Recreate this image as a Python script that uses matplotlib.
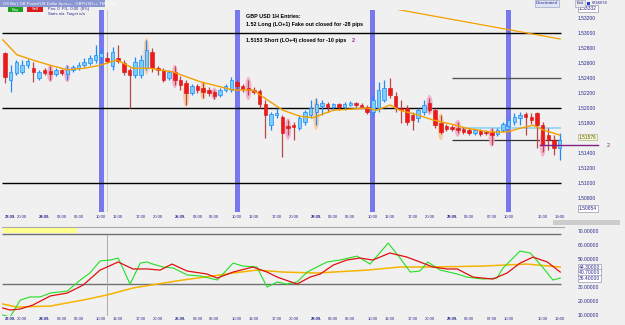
import numpy as np
import matplotlib.pyplot as plt
from matplotlib.patches import Ellipse, Rectangle

# GBPUSD 1H candles, 23.09. 17:00 -> 29.09. 19:00
opens = [1.5273, 1.5237, 1.5247, 1.5248, 1.5257, 1.5253, 1.5240, 1.5251, 1.5249, 1.5245,
         1.5251, 1.5245, 1.5251, 1.5253, 1.5257, 1.5260, 1.5264, 1.5268, 1.5267, 1.5256,
         1.5267, 1.5260, 1.5251, 1.5244, 1.5244, 1.5253, 1.5275, 1.5253, 1.5251, 1.5240,
         1.5248, 1.5237, 1.5233, 1.5220, 1.5229, 1.5227, 1.5224, 1.5221, 1.5217, 1.5224,
         1.5224, 1.5235, 1.5229, 1.5227, 1.5224, 1.5223, 1.5205, 1.5177, 1.5191, 1.5188,
         1.5176, 1.5177, 1.5173, 1.5181, 1.5191, 1.5195, 1.5203, 1.5205, 1.5201, 1.5205,
         1.5201, 1.5204, 1.5207, 1.5204, 1.5201, 1.5195, 1.5200, 1.5211, 1.5227, 1.5216,
         1.5200, 1.5200, 1.5191, 1.5187, 1.5195, 1.5207, 1.5197, 1.5180, 1.5176, 1.5175,
         1.5173, 1.5172, 1.5171, 1.5167, 1.5169, 1.5168, 1.5168, 1.5165, 1.5171, 1.5176,
         1.5181, 1.5187, 1.5192, 1.5188, 1.5193, 1.5177, 1.5164, 1.5157, 1.5147]
highs = [1.5275, 1.5257, 1.5264, 1.5264, 1.5265, 1.5261, 1.5251, 1.5253, 1.5256, 1.5253,
         1.5252, 1.5257, 1.5257, 1.5261, 1.5267, 1.5271, 1.5284, 1.5280, 1.5275, 1.5281,
         1.5284, 1.5264, 1.5253, 1.5268, 1.5271, 1.5291, 1.5280, 1.5256, 1.5253, 1.5251,
         1.5256, 1.5243, 1.5237, 1.5232, 1.5232, 1.5235, 1.5228, 1.5224, 1.5227, 1.5232,
         1.5241, 1.5237, 1.5232, 1.5237, 1.5228, 1.5225, 1.5211, 1.5195, 1.5200, 1.5191,
         1.5184, 1.5181, 1.5191, 1.5197, 1.5211, 1.5213, 1.5211, 1.5208, 1.5207, 1.5207,
         1.5208, 1.5209, 1.5208, 1.5207, 1.5204, 1.5217, 1.5235, 1.5237, 1.5240, 1.5221,
         1.5211, 1.5204, 1.5195, 1.5200, 1.5211, 1.5213, 1.5200, 1.5191, 1.5179, 1.5177,
         1.5181, 1.5175, 1.5173, 1.5172, 1.5172, 1.5171, 1.5173, 1.5173, 1.5181, 1.5187,
         1.5193, 1.5195, 1.5195, 1.5193, 1.5195, 1.5181, 1.5173, 1.5164, 1.5167]
lows = [1.5233, 1.5221, 1.5244, 1.5245, 1.5253, 1.5235, 1.5237, 1.5244, 1.5237, 1.5243,
        1.5244, 1.5237, 1.5248, 1.5251, 1.5255, 1.5257, 1.5260, 1.5253, 1.5260, 1.5251,
        1.5260, 1.5244, 1.5200, 1.5240, 1.5240, 1.5251, 1.5248, 1.5244, 1.5235, 1.5237,
        1.5231, 1.5224, 1.5204, 1.5217, 1.5220, 1.5213, 1.5216, 1.5212, 1.5215, 1.5221,
        1.5221, 1.5224, 1.5221, 1.5217, 1.5219, 1.5200, 1.5160, 1.5171, 1.5187, 1.5135,
        1.5164, 1.5157, 1.5171, 1.5177, 1.5187, 1.5177, 1.5191, 1.5195, 1.5197, 1.5197,
        1.5197, 1.5203, 1.5201, 1.5200, 1.5192, 1.5191, 1.5195, 1.5208, 1.5213, 1.5195,
        1.5180, 1.5177, 1.5171, 1.5181, 1.5191, 1.5195, 1.5173, 1.5165, 1.5169, 1.5169,
        1.5167, 1.5165, 1.5164, 1.5164, 1.5163, 1.5164, 1.5151, 1.5163, 1.5168, 1.5173,
        1.5177, 1.5177, 1.5164, 1.5179, 1.5147, 1.5141, 1.5144, 1.5137, 1.5131]
closes = [1.5241, 1.5248, 1.5261, 1.5257, 1.5263, 1.5248, 1.5248, 1.5247, 1.5245, 1.5251,
          1.5247, 1.5252, 1.5255, 1.5257, 1.5261, 1.5267, 1.5271, 1.5273, 1.5263, 1.5275,
          1.5263, 1.5248, 1.5244, 1.5261, 1.5264, 1.5277, 1.5253, 1.5251, 1.5237, 1.5248,
          1.5237, 1.5231, 1.5220, 1.5229, 1.5224, 1.5221, 1.5220, 1.5216, 1.5224, 1.5229,
          1.5237, 1.5229, 1.5225, 1.5224, 1.5221, 1.5205, 1.5191, 1.5192, 1.5193, 1.5167,
          1.5173, 1.5175, 1.5187, 1.5195, 1.5200, 1.5205, 1.5207, 1.5201, 1.5205, 1.5201,
          1.5205, 1.5207, 1.5204, 1.5201, 1.5195, 1.5211, 1.5224, 1.5227, 1.5217, 1.5200,
          1.5197, 1.5181, 1.5184, 1.5197, 1.5204, 1.5197, 1.5177, 1.5168, 1.5172, 1.5172,
          1.5171, 1.5168, 1.5167, 1.5171, 1.5165, 1.5167, 1.5164, 1.5171, 1.5179, 1.5184,
          1.5188, 1.5191, 1.5188, 1.5184, 1.5177, 1.5151, 1.5157, 1.5147, 1.5157]

# orange moving average
ema_bar = [-0.4, 2.1, 4.9, 8.0, 11.0, 14.0, 16.8, 19.8, 22.6, 25.6, 29.7, 34.5, 40.3, 43.8,
           46.3, 49.1, 52.1, 54.4, 58.0, 64.0, 65.7, 68.0, 69.8, 72.8, 75.6, 78.6, 81.6,
           85.7, 88.7, 91.0, 93.3, 95.0, 98.0]
ema_val = [1.5291, 1.5271, 1.5264, 1.5257, 1.5251, 1.5253, 1.5257, 1.5264, 1.5253, 1.5253,
           1.5248, 1.5235, 1.5224, 1.5224, 1.5211, 1.5197, 1.5189, 1.5187, 1.5197, 1.5200,
           1.5197, 1.5204, 1.5197, 1.5191, 1.5184, 1.5179, 1.5173, 1.5168, 1.5168, 1.5173,
           1.5177, 1.5171, 1.5164]

# highlighted candles (bar, mid price, height)
pink_bar = [8, 11, 30, 37, 43, 50, 75, 80, 86, 95]
pink_mid = [1.5246, 1.5246, 1.5242, 1.5219, 1.5226, 1.5172, 1.5204, 1.5173, 1.5161, 1.5153]
pink_h = [0.0023, 0.0023, 0.0031, 0.0016, 0.0031, 0.0029, 0.0027, 0.0023, 0.0025, 0.0036]
orange_bar = [25, 32, 35, 55, 77]
orange_mid = [1.5269, 1.5218, 1.5223, 1.5192, 1.5175]
orange_h = [0.0049, 0.0033, 0.0024, 0.0043, 0.0036]

session_bars = [17, 41, 65, 89]
round_levels = [1.5300, 1.5200, 1.5100]

# oscillator panel
g_bar = [-0.4, 0.9, 2.7, 4.4, 6.2, 8.0, 11.0, 13.3, 15.0, 16.8, 18.6, 20.0, 22.1, 23.9, 25.1,
         26.1, 27.9, 29.7, 32.2, 34.5, 37.5, 40.3, 42.0, 44.5, 46.3, 48.1, 49.8, 51.6, 53.4,
         55.1, 56.9, 59.2, 62.2, 64.5, 67.7, 69.8, 71.6, 73.3, 74.7, 76.9, 79.9, 81.6, 84.5,
         86.9, 88.0, 91.0, 92.8, 95.1, 96.8, 98.1]
g_val = [10.0, 8.6, 20.7, 22.9, 22.9, 25.7, 27.1, 35.0, 40.0, 48.6, 49.3, 50.7, 32.1, 47.1, 47.9,
         46.4, 44.3, 43.6, 38.6, 37.9, 35.0, 47.1, 45.0, 44.3, 30.0, 33.6, 32.1, 33.6, 40.7,
         44.3, 47.9, 49.3, 52.1, 46.4, 61.4, 50.7, 40.7, 41.4, 47.9, 42.1, 39.3, 37.1, 35.7,
         36.4, 43.6, 55.7, 54.3, 43.6, 35.0, 36.4]
r_bar = [-0.4, 0.9, 2.7, 4.9, 8.0, 11.0, 13.8, 16.8, 20.0, 22.6, 25.1, 27.4, 29.5, 32.2, 35.7,
         37.5, 40.3, 43.8, 46.3, 48.1, 51.6, 53.9, 55.7, 58.0, 60.4, 62.7, 65.0, 68.0, 71.0,
         73.3, 75.6, 78.1, 79.9, 82.7, 86.2, 88.7, 91.0, 93.3, 95.8, 98.1]
r_val = [15.0, 13.6, 14.3, 17.1, 23.6, 25.7, 31.4, 42.1, 47.9, 42.9, 42.9, 42.1, 46.4, 41.4, 39.3,
         36.4, 40.7, 44.3, 40.7, 37.1, 32.1, 37.1, 39.3, 45.7, 49.3, 50.7, 49.3, 54.3, 51.4,
         47.9, 44.3, 42.9, 42.9, 37.1, 35.7, 40.0, 47.1, 51.4, 47.9, 40.7]
o_bar = [-0.4, 2.1, 8.0, 13.8, 18.0, 22.6, 26.9, 31.4, 36.7, 40.3, 44.5, 49.1, 55.1, 58.0, 64.0,
         69.8, 75.6, 84.5, 92.2, 98.1]
o_val = [17.9, 15.7, 16.4, 20.7, 24.3, 29.3, 32.1, 35.0, 37.9, 40.0, 42.1, 40.7, 40.0, 40.7, 42.1,
         44.3, 44.3, 45.0, 46.4, 44.3]
osc_levels = [68, 32]

tick_bars = [0, 3, 7, 10, 13, 17, 20, 24, 27, 31, 34, 37, 41, 44, 48, 51, 55, 58, 61, 65, 68,
             72, 75, 79, 82, 86, 89, 95, 98]
tick_text = ['23.09.', '20:00', '24.09.', '03:00', '06:00', '10:00', '13:00', '17:00', '20:00',
             '25.09.', '03:00', '06:00', '10:00', '13:00', '17:00', '20:00', '28.09.', '03:00',
             '06:00', '10:00', '13:00', '17:00', '20:00', '29.09.', '03:00', '07:00', '10:00',
             '16:00', '19:00']
price_ticks = [1.508, 1.510, 1.512, 1.514, 1.518, 1.520, 1.522, 1.524, 1.526, 1.528, 1.530,
               1.532]

BG = '#f0f0f0'
NAVY = '#28288c'
plt.rcParams['font.family'] = ['Liberation Sans', 'DejaVu Sans']

fig = plt.figure(figsize=(6.25, 3.25), dpi=100, facecolor=BG)
ax = fig.add_axes([2/625, 1-212/325, 563/625, 202/325], facecolor=BG)
ax2 = fig.add_axes([2/625, 1-316/325, 563/625, 90/325], facecolor=BG)
xl = (-0.53, 98.94)

# ---- price panel
for b in session_bars:
    ax.axvspan(b - 0.45, b + 0.45, color='#7878ee', lw=0, zorder=1)
ax.axvline(18, color='#c8c8c8', lw=0.6, zorder=1)
ax.hlines(round_levels, -0.5, 98.2, color='black', lw=1.0, zorder=2)
ax.hlines(1.5240, 79, 98.2, color='#555555', lw=1.0, zorder=2)
ax.hlines(1.5157, 79, 98.2, color='#333333', lw=0.9, zorder=2)
ax.hlines(1.5173, 80, 98.2, color='#8fd4f4', lw=1.2, zorder=2)
ax.plot([94.5, 104.8], [1.5151, 1.5151], color='#802080', lw=1.0, clip_on=False, zorder=8)
ax.text(106.3, 1.5150, '2', color='#802080', fontsize=4.0, va='center', clip_on=False)
ax.plot([68.9, 98.1], [1.5332, 1.5292], color='#f5a000', lw=0.9, zorder=3)

for b, m, h in zip(pink_bar, pink_mid, pink_h):
    ax.add_patch(Ellipse((b, m), 1.1, h, color='#f3a6c6', alpha=0.85, lw=0, zorder=2))
for b, m, h in zip(orange_bar, orange_mid, orange_h):
    ax.add_patch(Ellipse((b, m), 1.1, h, color='#f7c99a', alpha=0.85, lw=0, zorder=2))

o = np.array(opens)
h = np.array(highs)
l = np.array(lows)
c = np.array(closes)
x = np.arange(len(o))
up = c >= o
ax.vlines(x[up], l[up], h[up], color='#1a8cff', lw=0.9, zorder=3)
ax.vlines(x[~up], l[~up], h[~up], color='#b84848', lw=0.9, zorder=3)
ax.bar(x[up], np.maximum((c - o)[up], 0.00008), bottom=o[up], width=0.62,
       color='#80ccf8', edgecolor='#1a8cff', lw=0.5, zorder=4)
ax.bar(x[~up], (c - o)[~up], bottom=o[~up], width=0.62,
       color='#ee1a1a', edgecolor='#d81010', lw=0.4, zorder=4)
ax.plot(ema_bar, ema_val, color='#f5a000', lw=1.0, zorder=5)

ax.text(42.6, 1.5320, 'GBP USD 1H Entries:', fontsize=3.9, weight='bold', zorder=6)
ax.text(42.6, 1.5309, '1.52 Long (LO+1) Fake out closed for -28 pips', fontsize=3.9,
        weight='bold', zorder=6)
ax.text(42.6, 1.5288, '1.5153 Short (LO+4) closed for -10 pips', fontsize=3.9,
        weight='bold', zorder=6)
ax.text(61.3, 1.5288, '2', fontsize=3.9, color='#8a2a8a', weight='bold', zorder=6)

ax.set_xlim(*xl)
ax.set_ylim(1.50613, 1.53307)
ax.yaxis.tick_right()
ax.set_yticks(price_ticks, [f'{p:.5f}' for p in price_ticks])
ax.tick_params(axis='y', length=0, pad=9, labelsize=3.6, labelcolor=NAVY)
ax.set_xticks(tick_bars, tick_text)
ax.tick_params(axis='x', length=0, pad=2, labelsize=3.0, labelcolor=NAVY)
for s in ax.spines.values():
    s.set_visible(False)

box = dict(boxstyle='square,pad=0.2', fc='white', ec='#8080a0', lw=0.4)
ax.text(1.025, 1.53332, '1.53332', transform=ax.get_yaxis_transform(), fontsize=3.6,
        color=NAVY, va='center', bbox=box, clip_on=False)
ax.text(1.025, 1.5161, f'{closes[-1] + 0.00006:.5f}', transform=ax.get_yaxis_transform(),
        fontsize=3.4, color='#505020', va='center', clip_on=False,
        bbox=dict(boxstyle='square,pad=0.15', fc='#fafad2', ec='#a0a070', lw=0.4))
ax.text(1.025, 1.50654, '1.50654', transform=ax.get_yaxis_transform(), fontsize=3.6,
        color=NAVY, va='center', bbox=box, clip_on=False)

# ---- oscillator panel
ax2.axhline(72.9, color='#a8a8a8', lw=0.8)
ax2.hlines(osc_levels, -0.5, 98.2, color='#707070', lw=1.0)
ax2.axvline(18, color='#a0a0a0', lw=0.6, ymax=0.9)
ax2.plot(o_bar, o_val, color='#f5b400', lw=1.1)
ax2.plot(g_bar, g_val, color='#22e022', lw=0.8)
ax2.plot(r_bar, r_val, color='#e01010', lw=0.9)
ax2.set_xlim(*xl)
ax2.set_ylim(9.3, 73.6)
oticks = [10, 20, 30, 50, 60, 70]
ax2.yaxis.tick_right()
ax2.set_yticks(oticks, [f'{v:.5f}' for v in oticks])
ax2.tick_params(axis='y', length=0, pad=9, labelsize=3.6, labelcolor=NAVY)
ax2.set_xticks(tick_bars, tick_text)
ax2.tick_params(axis='x', length=0, pad=1, labelsize=3.0, labelcolor=NAVY)
for s in ax2.spines.values():
    s.set_visible(False)
for v in [o_val[-1], r_val[-1], g_val[-1]]:
    ax2.text(1.025, v, f'{v:.5f}', transform=ax2.get_yaxis_transform(), fontsize=3.6,
             color=NAVY, va='center', bbox=box, clip_on=False)

for a in (ax, ax2):
    labs = a.get_xticklabels()
    for lab, txt in zip(labs, tick_text):
        if txt.endswith('.'):
            lab.set_fontweight('bold')
    labs[0].set_horizontalalignment('left')

# ---- screen furniture
fig.add_artist(Rectangle((0, 1-7/325), 105/625, 7/325, transform=fig.transFigure,
                         color='#8a96d2', lw=0))
fig.text(3/625, 1-3.5/325, 'GS Bin | GB Pound/US Dollar Spot++ - GBPUSD++ TMS, 1H',
         fontsize=3.0, color='white', va='center')
fig.add_artist(Rectangle((8/625, 1-12/325), 15/625, 5/325, transform=fig.transFigure,
                         color='#1ea01e', lw=0))
fig.text(15.5/625, 1-9.5/325, 'Buy', fontsize=3.0, color='white', va='center', ha='center')
fig.add_artist(Rectangle((27/625, 1-12/325), 16/625, 5/325, transform=fig.transFigure,
                         color='#d81c1c', lw=0))
fig.text(35/625, 1-9.5/325, 'Sell', fontsize=3.0, color='white', va='center', ha='center')
fig.text(48/625, 1-9/325, 'Pos: 0  P/L: 0.00  (0%)', fontsize=3.0, color=NAVY, va='center')
fig.text(48/625, 1-14/325, 'Stats n/a  Target n/a', fontsize=3.0, color=NAVY, va='center')
fig.text(547/625, 1-3.5/325, 'Deactivated', fontsize=3.0, color=NAVY, va='center', ha='center',
         bbox=dict(boxstyle='square,pad=0.3', fc='#dde4f4', ec='#9098b8', lw=0.4))
fig.text(580/625, 1-3.5/325, 'Exit', fontsize=3.0, color=NAVY, va='center', ha='center',
         bbox=dict(boxstyle='square,pad=0.3', fc='#e8e8e8', ec='#9098b8', lw=0.4))
fig.add_artist(Rectangle((587/625, 1-5/325), 3/625, 3/325, transform=fig.transFigure,
                         color='#2040d0', lw=0))
fig.text(592/625, 1-3.5/325, '6766078', fontsize=3.0, color=NAVY, va='center')
fig.add_artist(Rectangle((553/625, 1-225/325), 67/625, 5/325, transform=fig.transFigure,
                         color='#cccccc', lw=0))
fig.add_artist(Rectangle((3/625, 1-233/325), 74/625, 5/325, transform=fig.transFigure,
                         color='#ffff90', lw=0))

fig.savefig('out.png', dpi=100, facecolor=BG)
